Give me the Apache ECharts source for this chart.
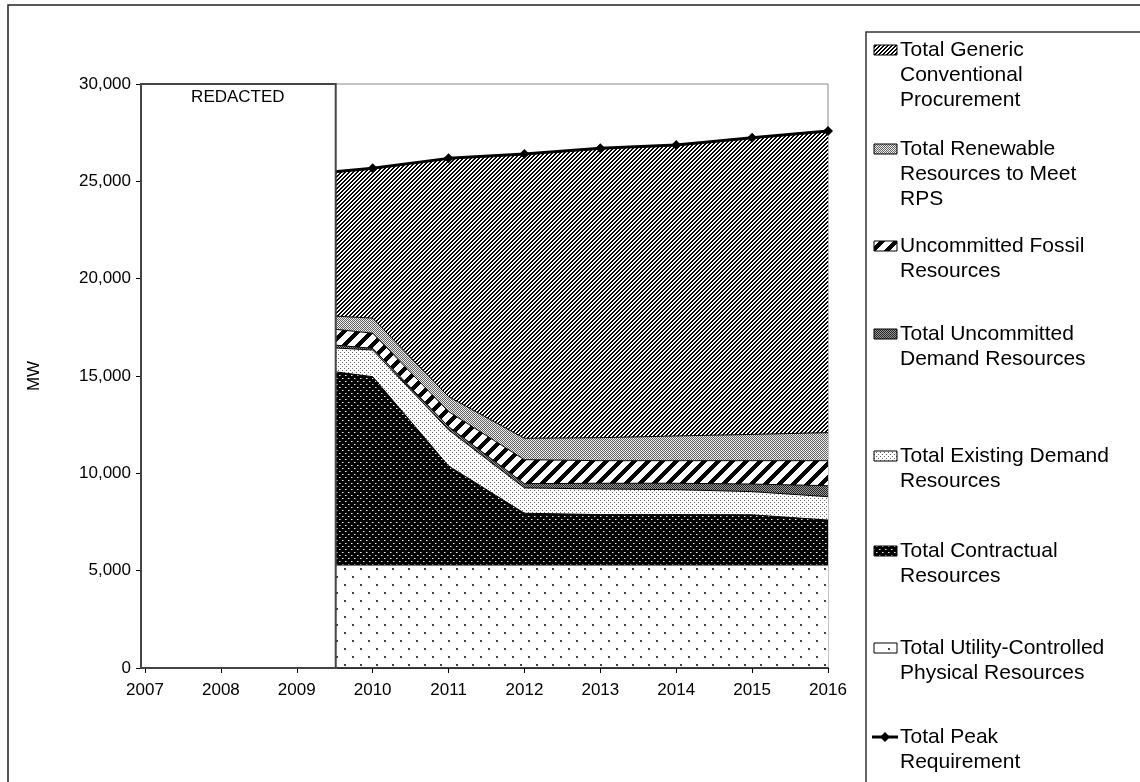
<!DOCTYPE html>
<html>
<head>
<meta charset="utf-8">
<script src="https://cdn.jsdelivr.net/npm/echarts@6/dist/echarts.min.js"></script>
<style>
  html, body { margin: 0; padding: 0; background: #fff; }
  #chart { width: 1140px; height: 782px; }
</style>
</head>
<body>
<div id="chart"></div>
<script>
// Years on the x axis; the first visible point sits at the edge of the redacted block
const xYears = [2009.5, 2010, 2011, 2012, 2013, 2014, 2015, 2016];
const axisYears = [2007, 2016];

// Resource stack (MW), bottom to top
const utilityControlled = [5290, 5290, 5290, 5290, 5290, 5290, 5290, 5290];
const contractual       = [9930, 9675, 5090, 2660, 2590, 2590, 2580, 2310];
const existingDemand    = [1220, 1370, 1850, 1300, 1315, 1280, 1190, 1200];
const uncommittedDemand = [150, 85, 170, 220, 295, 330, 390, 565];
const uncommittedFossil = [810, 780, 770, 1230, 1160, 1160, 1200, 1285];
const renewableRPS      = [680, 770, 770, 1100, 1180, 1270, 1350, 1440];
const genericConv       = [7415, 7700, 12240, 14600, 14870, 14950, 15240, 15500];
const peakRequirement   = [25495, 25670, 26180, 26400, 26700, 26870, 27240, 27590];

const yTicks = [0, 5000, 10000, 15000, 20000, 25000, 30000];

const names = {
  generic: 'Total Generic\nConventional\nProcurement',
  renew: 'Total Renewable\nResources to Meet\nRPS',
  fossil: 'Uncommitted Fossil\nResources',
  ud: 'Total Uncommitted\nDemand Resources',
  existing: 'Total Existing Demand\nResources',
  contract: 'Total Contractual\nResources',
  utility: 'Total Utility-Controlled\nPhysical Resources',
  peak: 'Total Peak\nRequirement'
};

// ---- fill patterns (drawn pixel by pixel on small tiles) ----
function tile(w, h, bg, paint) {
  const c = document.createElement('canvas');
  c.width = w; c.height = h;
  const g = c.getContext('2d');
  g.fillStyle = bg; g.fillRect(0, 0, w, h);
  paint(g, w, h);
  return { image: c, repeat: 'repeat' };
}
function px(g, x, y, col, s) { g.fillStyle = col; g.fillRect(x, y, s || 1, s || 1); }

const patGeneric = tile(4, 4, '#fff', (g) => {
  for (let y = 0; y < 4; y++) for (let x = 0; x < 4; x++)
    if ((x + y) % 4 < 2) px(g, x, y, '#000');
});
const patFossil = tile(14, 14, '#fff', (g) => {
  for (let y = 0; y < 14; y++) for (let x = 0; x < 14; x++)
    if ((x + y) % 14 < 6) px(g, x, y, '#000');
});
const patRenew = tile(4, 4, '#e4e4e4', (g) => {
  for (let y = 0; y < 4; y++) for (let x = 0; x < 4; x++)
    if ((x + y) % 2 === 0) px(g, x, y, '#666');
  px(g, 1, 2, '#fff'); px(g, 3, 0, '#fff');
});
const patUD = tile(4, 4, '#999', (g) => {
  for (let y = 0; y < 4; y++) for (let x = 0; x < 4; x++)
    if ((x + y) % 2 === 0) px(g, x, y, '#222');
});
const patExisting = tile(4, 4, '#fff', (g) => {
  px(g, 0, 0, '#666'); px(g, 2, 2, '#666');
});
const patContract = tile(6, 6, '#000', (g) => {
  px(g, 0, 0, '#f0f0f0'); px(g, 1, 0, '#777');
  px(g, 3, 3, '#f0f0f0'); px(g, 4, 3, '#777');
});
const patUtility = tile(16, 16, '#fff', (g) => {
  px(g, 0, 0, '#444', 2); px(g, 8, 8, '#444', 2);
});

const FONT = '"Liberation Sans", Arial, sans-serif';

// Points are stored as [MW, year] so the MW column is the one that stacks
function toPoints(values) { return xYears.map((x, i) => [values[i], x]); }

// Lower layers sit above higher ones so each layer's top outline stays visible
function areaSeries(name, values, fill, level) {
  return {
    name: name,
    type: 'line',
    stack: 'resources',
    symbol: 'none',
    silent: true,
    encode: { x: 1, y: 0 },
    lineStyle: { color: '#000', width: 1 },
    areaStyle: { color: fill, opacity: 1 },
    data: toPoints(values),
    z: 20 - level
  };
}

const chart = echarts.init(document.getElementById('chart'), null, { renderer: 'canvas' });

chart.setOption({
  animation: false,
  backgroundColor: '#fff',
  grid: { left: 145, right: 312, top: 84, bottom: 114, show: true, borderColor: '#888', borderWidth: 1, backgroundColor: 'transparent' },
  xAxis: {
    type: 'value',
    min: axisYears[0], max: axisYears[1], interval: 1,
    axisLine: { show: true, lineStyle: { color: '#000', width: 1.5 } },
    axisTick: { show: true, inside: false, length: 5, lineStyle: { color: '#000' } },
    axisLabel: { color: '#000', fontFamily: FONT, fontSize: 17, margin: 14, formatter: (v) => String(v) },
    splitLine: { show: false },
    z: 30
  },
  yAxis: {
    type: 'value',
    min: yTicks[0], max: yTicks[yTicks.length - 1], interval: 5000,
    name: 'MW', nameLocation: 'middle', nameGap: 102, nameRotate: 90,
    nameTextStyle: { color: '#000', fontFamily: FONT, fontSize: 17 },
    axisLine: { show: false },
    axisTick: { show: true, length: 9, lineStyle: { color: '#000' } },
    axisLabel: { color: '#000', fontFamily: FONT, fontSize: 17, margin: 14,
      formatter: (v) => v.toLocaleString('en-US') },
    splitLine: { show: false }
  },
  series: [
    areaSeries(names.utility, utilityControlled, patUtility, 0),
    areaSeries(names.contract, contractual, patContract, 1),
    areaSeries(names.existing, existingDemand, patExisting, 2),
    areaSeries(names.ud, uncommittedDemand, patUD, 3),
    areaSeries(names.fossil, uncommittedFossil, patFossil, 4),
    areaSeries(names.renew, renewableRPS, patRenew, 5),
    areaSeries(names.generic, genericConv, patGeneric, 6),
    {
      name: names.peak,
      type: 'line',
      silent: true,
      symbol: 'diamond',
      symbolSize: 10,
      encode: { x: 1, y: 0 },
      lineStyle: { color: '#000', width: 3 },
      itemStyle: { color: '#000' },
      data: toPoints(peakRequirement).map((p, i) => i === 0 ? { value: p, symbol: 'none' } : p),
      z: 25
    }
  ]
});

// Redacted block over 2007 - mid 2009, placed through the axes
const pTL = chart.convertToPixel({ gridIndex: 0 }, [axisYears[0], yTicks[yTicks.length - 1]]);
const pBR = chart.convertToPixel({ gridIndex: 0 }, [xYears[0], yTicks[0]]);
const boxLeft = pTL[0] - 4;

// Legend entries (top to bottom) with the first-line centre of each
const legendItems = [
  { key: 'generic', fill: patGeneric, cy: 50 },
  { key: 'renew', fill: patRenew, cy: 149 },
  { key: 'fossil', fill: patFossil, cy: 246 },
  { key: 'ud', fill: patUD, cy: 334 },
  { key: 'existing', fill: patExisting, cy: 456 },
  { key: 'contract', fill: patContract, cy: 551 },
  { key: 'utility', fill: patUtility, cy: 648 },
  { key: 'peak', fill: null, cy: 737 }
];

const graphics = [
  // outer frame
  { type: 'polyline', z: 100, silent: true,
    shape: { points: [[8, 782], [8, 5], [1140, 5]] },
    style: { stroke: '#222', lineWidth: 1.5, fill: null } },
  // legend frame
  { type: 'rect', z: 100, silent: true,
    shape: { x: 866, y: 32, width: 300, height: 800 },
    style: { stroke: '#333', lineWidth: 1.5, fill: '#fff' } },
  // redacted block
  { type: 'rect', z: 100, silent: true,
    shape: { x: boxLeft, y: pTL[1], width: pBR[0] - boxLeft + 1, height: pBR[1] - pTL[1] },
    style: { stroke: '#444', lineWidth: 2, fill: '#fff' } },
  { type: 'text', z: 101, silent: true,
    style: { text: 'REDACTED', x: (boxLeft + pBR[0]) / 2, y: pTL[1] + 5,
      align: 'center', verticalAlign: 'top', font: '17px ' + FONT, fill: '#000' } }
];

legendItems.forEach((it) => {
  if (it.fill) {
    graphics.push({ type: 'rect', z: 101, silent: true,
      shape: { x: 874, y: it.cy - 5, width: 23, height: 10 },
      style: { fill: it.fill, stroke: '#000', lineWidth: 1 } });
  } else {
    graphics.push({ type: 'line', z: 101, silent: true,
      shape: { x1: 872, y1: it.cy, x2: 898, y2: it.cy },
      style: { stroke: '#000', lineWidth: 3 } });
    graphics.push({ type: 'polygon', z: 102, silent: true,
      shape: { points: [[885, it.cy - 5], [890, it.cy], [885, it.cy + 5], [880, it.cy]] },
      style: { fill: '#000' } });
  }
  graphics.push({ type: 'text', z: 101, silent: true,
    style: { text: names[it.key], x: 900, y: it.cy - 12.5, lineHeight: 25,
      align: 'left', verticalAlign: 'top', font: '21px ' + FONT, fill: '#000' } });
});

chart.setOption({ graphic: graphics });
</script>
</body>
</html>
